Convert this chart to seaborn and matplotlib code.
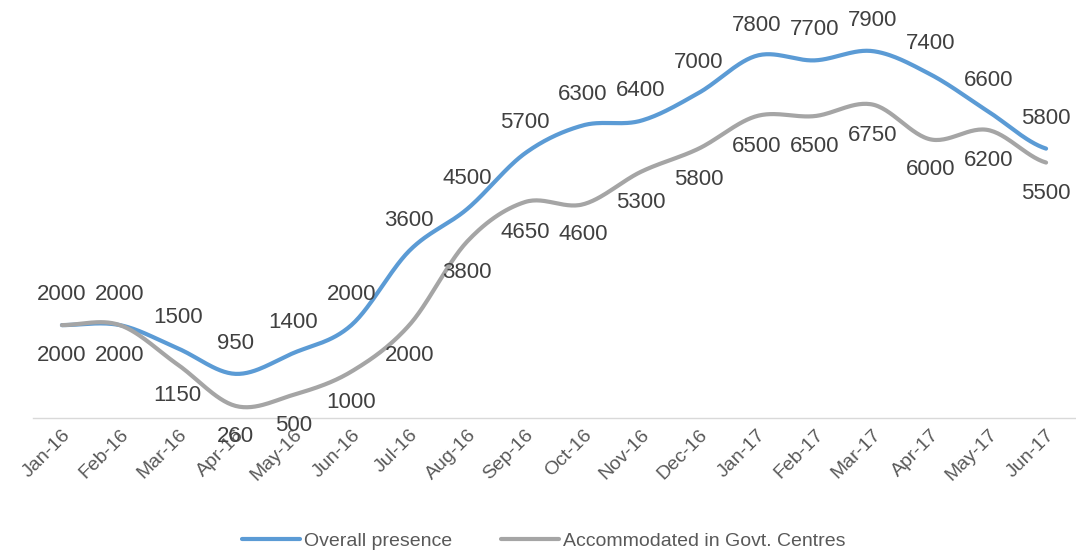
import numpy as np
import pandas as pd
import matplotlib
matplotlib.use("Agg")
import matplotlib.pyplot as plt
import seaborn as sns

months = ['Jan-16', 'Feb-16', 'Mar-16', 'Apr-16', 'May-16', 'Jun-16', 'Jul-16', 'Aug-16', 'Sep-16',
          'Oct-16', 'Nov-16', 'Dec-16', 'Jan-17', 'Feb-17', 'Mar-17', 'Apr-17', 'May-17', 'Jun-17']
overall = [2000, 2000, 1500, 950, 1400, 2000, 3600, 4500, 5700,
           6300, 6400, 7000, 7800, 7700, 7900, 7400, 6600, 5800]
accommodated = [2000, 2000, 1150, 260, 500, 1000, 2000, 3800, 4650,
                4600, 5300, 5800, 6500, 6500, 6750, 6000, 6200, 5500]

sns.set_theme(style="white")
plt.rcParams['font.family'] = ['Liberation Sans', 'DejaVu Sans']

def smooth(y, n=30):
    # Catmull-Rom style smoothing like the spreadsheet "smoothed line"
    y = np.asarray(y, dtype=float)
    x = np.arange(len(y), dtype=float)
    p = np.concatenate([[y[0]], y, [y[-1]]])
    xs, ys = [], []
    for i in range(len(y) - 1):
        p0, p1, p2, p3 = p[i], p[i + 1], p[i + 2], p[i + 3]
        t = np.linspace(0, 1, n, endpoint=False)
        yy = 0.5 * ((2 * p1) + (-p0 + p2) * t + (2 * p0 - 5 * p1 + 4 * p2 - p3) * t ** 2
                    + (-p0 + 3 * p1 - 3 * p2 + p3) * t ** 3)
        xs.append(x[i] + t)
        ys.append(yy)
    xs.append([x[-1]])
    ys.append([y[-1]])
    return np.concatenate(xs), np.concatenate(ys)

fig = plt.figure(figsize=(10.76, 5.53), dpi=100)
ax = fig.add_axes([33 / 1076, 1 - 418 / 553, 1042 / 1076, 418 / 553])

series = [('Overall presence', overall, '#5B9BD5', 22),
          ('Accommodated in Govt. Centres', accommodated, '#A5A5A5', -22)]

for name, vals, col, off in series:
    xs, ys = smooth(vals)
    df = pd.DataFrame({'x': xs, 'y': ys})
    sns.lineplot(data=df, x='x', y='y', ax=ax, color=col, linewidth=3, label=name,
                 solid_capstyle='round')

for name, vals, col, off in series:
    for i, v in enumerate(vals):
        ax.annotate(f"{v}", (i, v), xytext=(0, off), textcoords='offset points',
                    ha='center', va='center', fontsize=16, color='#404040',
                    annotation_clip=False)

ax.set_xlim(-0.5, len(months) - 0.5)
ax.set_ylim(0, 9000)
ax.set_xticks(range(len(months)))
ax.set_xticklabels(months, rotation=45, ha='right', rotation_mode='anchor',
                   fontsize=14, color='#595959')
ax.tick_params(axis='x', length=0, pad=6)
ax.set_yticks([])
ax.set_xlabel('')
ax.set_ylabel('')
for s in ['top', 'left', 'right']:
    ax.spines[s].set_visible(False)
ax.spines['bottom'].set_color('#D9D9D9')
ax.spines['bottom'].set_linewidth(1)
ax.set_facecolor('none')

leg = ax.legend(loc='center', bbox_to_anchor=(0.49, -0.295), ncol=2, frameon=False,
                fontsize=14, handlelength=3.0, handletextpad=0.2, columnspacing=2.5)
for t in leg.get_texts():
    t.set_color('#595959')

fig.savefig('out.png', dpi=100)
